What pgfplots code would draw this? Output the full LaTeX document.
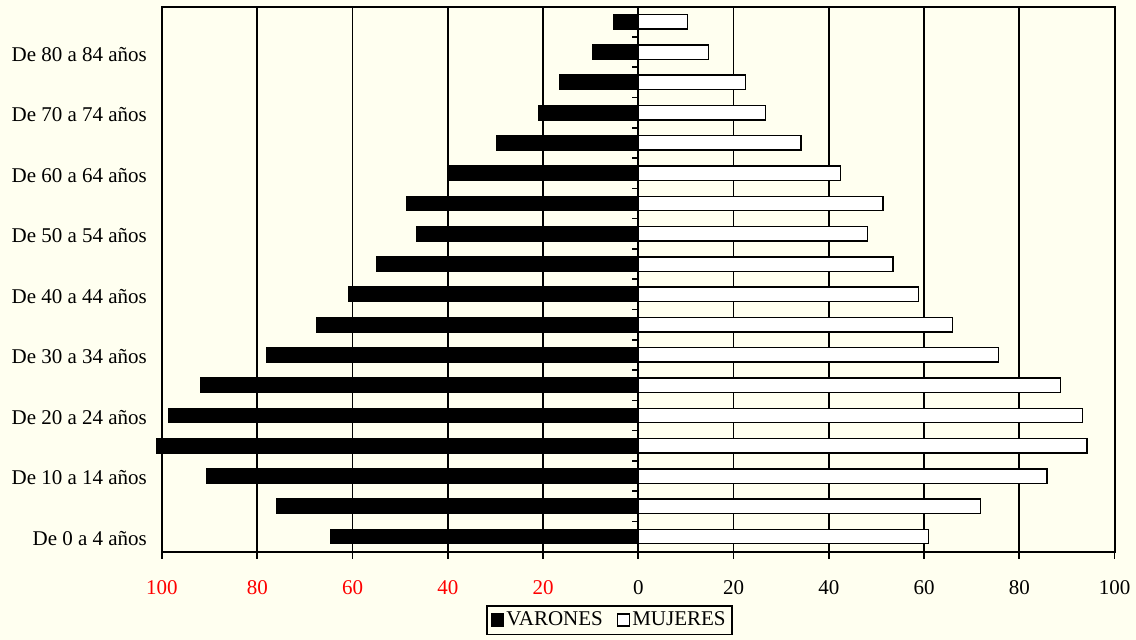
\documentclass[border=0pt]{standalone}
\usepackage{fontspec}
\setmainfont{Liberation Serif}
\usepackage{pgfplots}
\pgfplotsset{compat=1.18}
\definecolor{bg}{RGB}{255,255,240}

\begin{document}
\begin{tikzpicture}
\fill[bg] (0,0) rectangle (568pt,-320pt);
\begin{axis}[
  at={(81pt,-3.35pt)}, anchor=north west,
  scale only axis, width=476.25pt, height=272.5pt,
  xbar, bar shift=0pt, bar width=7.2pt,
  clip=false,
  xmin=-100, xmax=100, ymin=-0.5, ymax=17.5,
  xtick={-100,-80,-60,-40,-20,0,20,40,60,80,100},
  xticklabels={\textcolor{red}{100},\textcolor{red}{80},\textcolor{red}{60},\textcolor{red}{40},\textcolor{red}{20},0,20,40,60,80,100},
  ytick={0,2,4,6,8,10,12,14,16},
  yticklabels={De 0 a 4 años,De 10 a 14 años,De 20 a 24 años,De 30 a 34 años,De 40 a 44 años,De 50 a 54 años,De 60 a 64 años,De 70 a 74 años,De 80 a 84 años},
  ytick style={draw=none},
  yticklabel style={xshift=-0.5pt, yshift=-1pt},
  xticklabel style={yshift=-7.5pt},
  xtick pos=bottom, ytick pos=left,
  tick align=outside, major tick length=3.5pt,
  x tick style={black, line width=0.9pt},
  xmajorgrids, major grid style={black, line width=0.9pt},
  axis line style={line width=1pt},
  axis background/.style={fill=bg},
  tick label style={font=\fontsize{10.5}{12}\selectfont},
  legend columns=2,
  legend image code/.code={\draw[#1] (0pt,-3pt) rectangle (6pt,3pt);},
  legend style={at={(axis description cs:0.3403,-0.0974)}, anchor=north west,
    draw=black, line width=0.9pt, fill=bg,
    font=\fontsize{10.5}{12}\selectfont,
    inner xsep=2pt, inner ysep=2pt,
    nodes={inner sep=1pt},
    /tikz/every even column/.append style={column sep=6pt}},
]
\addplot[fill=black, draw=black, line width=0.7pt] coordinates {
 (-64.6,0) (-75.9,1) (-90.6,2) (-101.1,3) (-98.6,4) (-91.9,5) (-78.0,6) (-67.5,7) (-60.8,8)
 (-55.0,9) (-46.6,10) (-48.7,11) (-39.5,12) (-29.8,13) (-21.0,14) (-16.4,15) (-9.6,16) (-5.1,17)
};
\addlegendentry{VARONES}
\addplot[fill=white, draw=black, line width=0.7pt] coordinates {
 (61.0,0) (71.9,1) (85.8,2) (94.2,3) (93.3,4) (88.7,5) (75.6,6) (66.0,7) (58.9,8)
 (53.5,9) (48.1,10) (51.4,11) (42.5,12) (34.2,13) (26.7,14) (22.5,15) (14.8,16) (10.3,17)
};
\addlegendentry{MUJERES\hspace{8pt}}
\draw[line width=0.9pt] (axis cs:0,-0.5) -- (axis cs:0,17.5);
\pgfplotsinvokeforeach{-0.5,0.5,1.5,2.5,3.5,4.5,5.5,6.5,7.5,8.5,9.5,10.5,11.5,12.5,13.5,14.5,15.5,16.5,17.5}{
  \draw[line width=0.8pt] (axis cs:0,#1) -- ([xshift=-3pt]axis cs:0,#1);
}
\draw[line width=1pt] (rel axis cs:0,0) rectangle (rel axis cs:1,1);
\end{axis}
\pgfresetboundingbox
\useasboundingbox (0,0) rectangle (568pt,-320pt);
\end{tikzpicture}
\end{document}
